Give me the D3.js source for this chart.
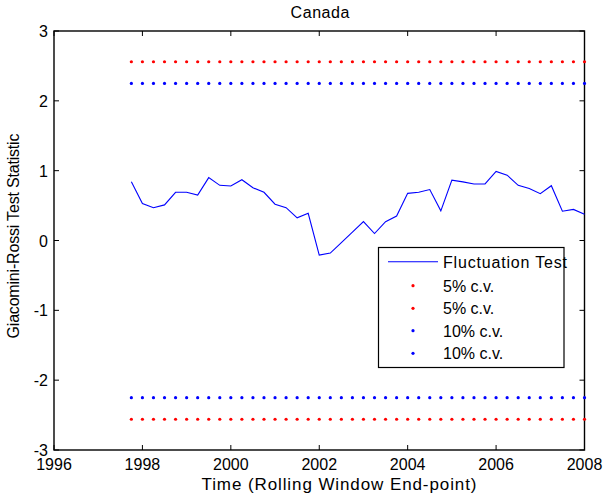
<!DOCTYPE html>
<html>
<head>
<meta charset="utf-8">
<script src="https://cdn.jsdelivr.net/npm/d3@7"></script>
<style>
  html, body { margin: 0; padding: 0; background: #fff; }
  svg { display: block; font-family: "Liberation Sans", Arial, Helvetica, sans-serif; }
</style>
</head>
<body>
<svg id="chart" width="604" height="497"></svg>
<script>
// Rolling-window end points (quarterly)
const dates = [
  1997.75, 1998.00, 1998.25, 1998.50, 1998.75, 1999.00, 1999.25, 1999.50, 1999.75,
  2000.00, 2000.25, 2000.50, 2000.75, 2001.00, 2001.25, 2001.50, 2001.75,
  2002.00, 2002.25, 2002.50, 2002.75, 2003.00, 2003.25, 2003.50, 2003.75,
  2004.00, 2004.25, 2004.50, 2004.75, 2005.00, 2005.25, 2005.50, 2005.75,
  2006.00, 2006.25, 2006.50, 2006.75, 2007.00, 2007.25, 2007.50, 2007.75, 2008.00
];

// Giacomini-Rossi fluctuation test statistic
const fluctuation = [
  0.84, 0.53, 0.47, 0.51, 0.69, 0.69, 0.65, 0.90, 0.79,
  0.78, 0.87, 0.755, 0.69, 0.52, 0.47, 0.325, 0.39,
  -0.21, -0.18, -0.03, 0.12, 0.27, 0.10, 0.27, 0.35,
  0.675, 0.69, 0.73, 0.425, 0.865, 0.84, 0.81, 0.81,
  0.99, 0.935, 0.79, 0.745, 0.67, 0.785, 0.42, 0.445, 0.375
];

// Critical values
const cv5 = 2.56;
const cv10 = 2.25;

const xTicks = [1996, 1998, 2000, 2002, 2004, 2006, 2008];
const yTicks = [-3, -2, -1, 0, 1, 2, 3];

const legendLabels = ["Fluctuation Test", "5% c.v.", "5% c.v.", "10% c.v.", "10% c.v."];

(function draw() {
  const svg = d3.select("#chart");
  const pLeft = 54, pRight = 584.5, pTop = 31, pBottom = 450;

  const x = d3.scaleLinear().domain([1996, 2008]).range([pLeft, pRight]);
  const y = d3.scaleLinear().domain([-3, 3]).range([pBottom, pTop]);

  const tickLen = 5;
  const g = svg.append("g");

  // Ticks point inward and are mirrored on the top and right edges
  const fmt = d3.format("d");
  x.ticks && xTicks.forEach(t => {
    g.append("line").attr("x1", x(t)).attr("x2", x(t)).attr("y1", pBottom).attr("y2", pBottom - tickLen).attr("stroke", "#000");
    g.append("line").attr("x1", x(t)).attr("x2", x(t)).attr("y1", pTop).attr("y2", pTop + tickLen).attr("stroke", "#000");
    g.append("text").attr("x", x(t)).attr("y", 470).attr("text-anchor", "middle")
      .attr("font-size", 16).attr("fill", "#000").text(fmt(t));
  });
  yTicks.forEach(t => {
    g.append("line").attr("x1", pLeft).attr("x2", pLeft + tickLen).attr("y1", y(t)).attr("y2", y(t)).attr("stroke", "#000");
    g.append("line").attr("x1", pRight).attr("x2", pRight - tickLen).attr("y1", y(t)).attr("y2", y(t)).attr("stroke", "#000");
    g.append("text").attr("x", 48).attr("y", y(t) + 6).attr("text-anchor", "end")
      .attr("font-size", 16).attr("fill", "#000").text(t);
  });

  // Plot box
  g.append("rect").attr("x", pLeft).attr("y", pTop).attr("width", pRight - pLeft).attr("height", pBottom - pTop)
    .attr("fill", "none").attr("stroke", "#000").attr("stroke-width", 1.4);

  // Critical value dotted bands
  const bands = [
    { v: cv5, c: "#ff0000" }, { v: -cv5, c: "#ff0000" },
    { v: cv10, c: "#0000ff" }, { v: -cv10, c: "#0000ff" }
  ];
  bands.forEach(b => {
    g.append("g").selectAll("circle").data(dates).join("circle")
      .attr("cx", d => x(d)).attr("cy", y(b.v)).attr("r", 1.6).attr("fill", b.c);
  });

  // Fluctuation test line
  const line = d3.line().x((d, i) => x(dates[i])).y(d => y(d));
  g.append("path").datum(fluctuation).attr("d", line)
    .attr("fill", "none").attr("stroke", "#0000ff").attr("stroke-width", 1.1);

  // Title and axis labels
  svg.append("text").attr("x", 320).attr("y", 18).attr("text-anchor", "middle")
    .attr("font-size", 16).attr("textLength", 59).attr("lengthAdjust", "spacing").text("Canada");
  svg.append("text").attr("x", 339).attr("y", 490).attr("text-anchor", "middle")
    .attr("font-size", 17).attr("textLength", 275).attr("lengthAdjust", "spacing")
    .text("Time (Rolling Window End-point)");
  svg.append("text").attr("transform", "translate(19,236) rotate(-90)").attr("text-anchor", "middle")
    .attr("font-size", 16).attr("textLength", 205).attr("lengthAdjust", "spacing")
    .text("Giacomini-Rossi Test Statistic");

  // Legend
  const lg = svg.append("g");
  lg.append("rect").attr("x", 378.5).attr("y", 247.5).attr("width", 185.5).attr("height", 120)
    .attr("fill", "#fff").attr("stroke", "#000").attr("stroke-width", 1.2);
  const rowY = [261.7, 285.7, 308.3, 330.7, 353.3];
  const legendColors = ["#0000ff", "#ff0000", "#ff0000", "#0000ff", "#0000ff"];
  legendLabels.forEach((lab, i) => {
    if (i === 0) {
      lg.append("line").attr("x1", 388).attr("x2", 438).attr("y1", rowY[i]).attr("y2", rowY[i])
        .attr("stroke", legendColors[i]).attr("stroke-width", 1.1);
    } else {
      lg.append("circle").attr("cx", 413).attr("cy", rowY[i]).attr("r", 1.6).attr("fill", legendColors[i]);
    }
    const t = lg.append("text").attr("x", 443).attr("y", rowY[i] + 6).attr("font-size", 16).text(lab);
    if (i === 0) t.attr("textLength", 124).attr("lengthAdjust", "spacing");
  });
})();
</script>
</body>
</html>
